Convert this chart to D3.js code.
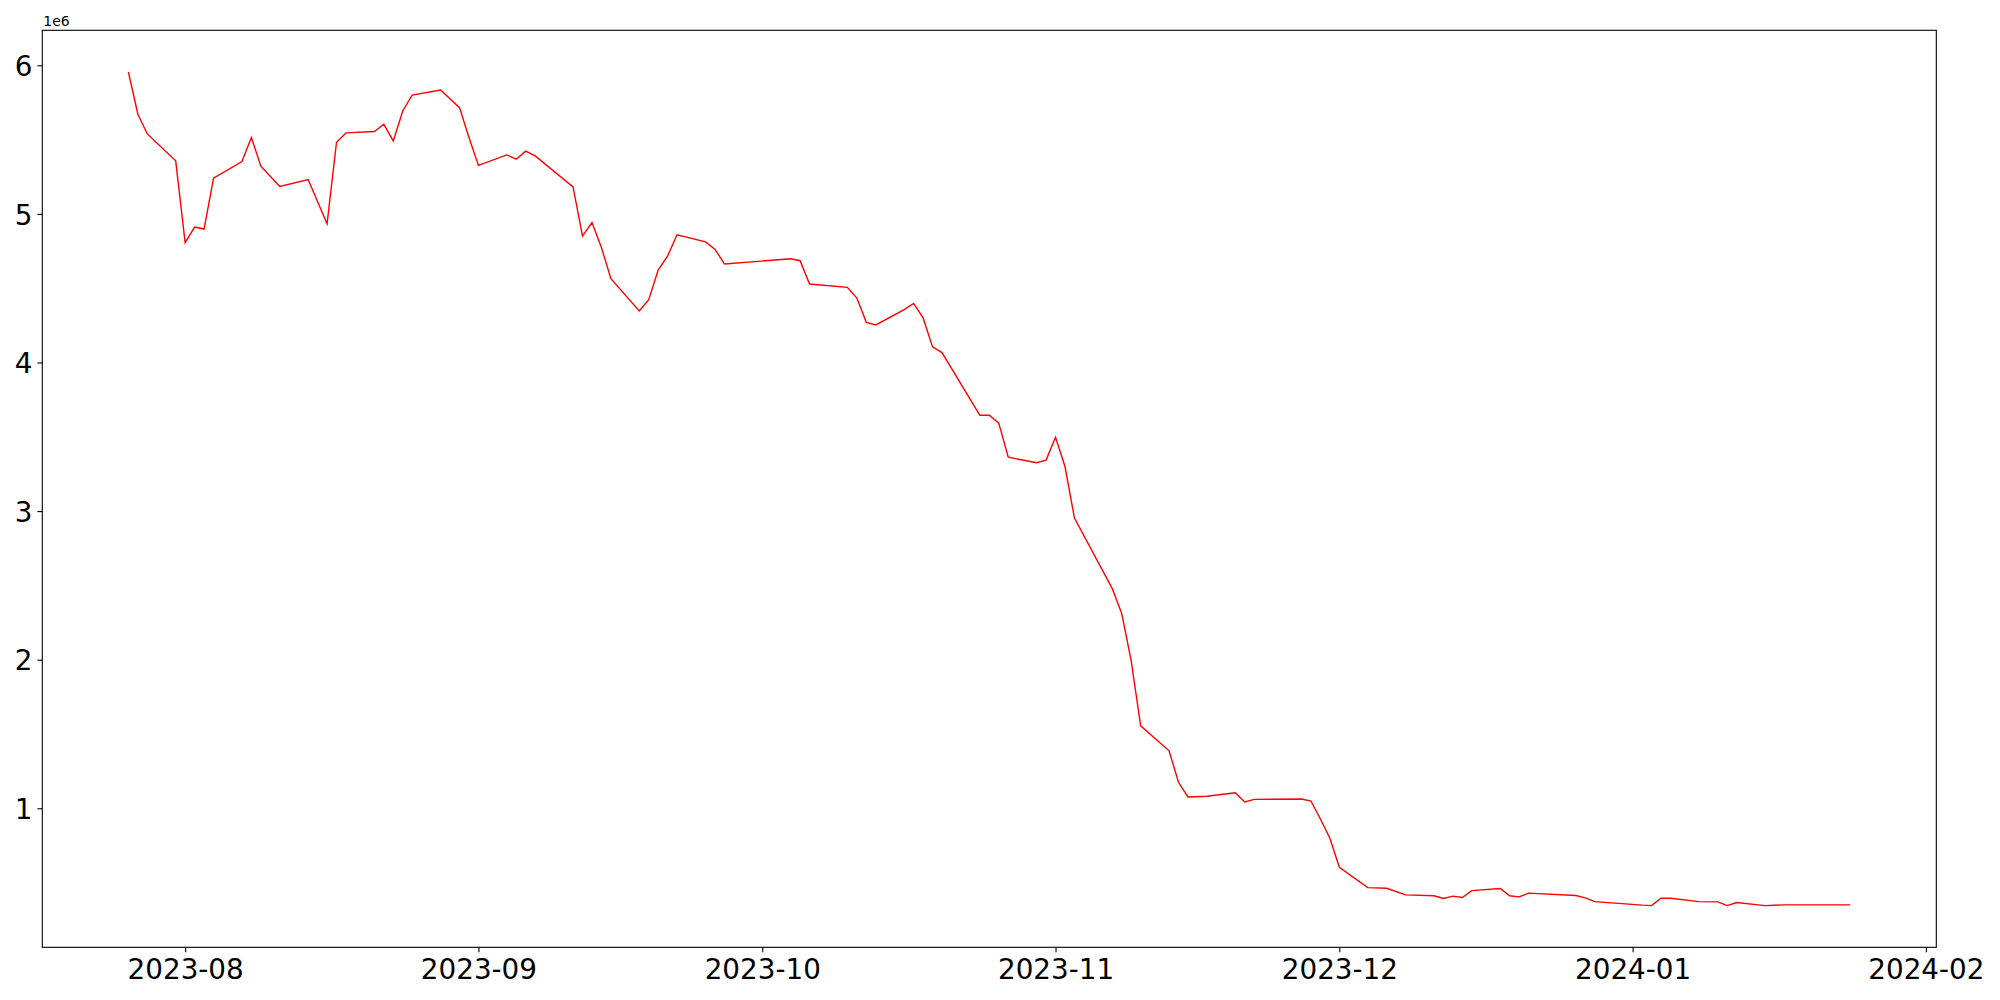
<!DOCTYPE html>
<html>
<head>
<meta charset="utf-8">
<script src="https://cdn.jsdelivr.net/npm/d3@7"></script>
<style>
  body { margin: 0; background: #fff; }
  svg { display: block; font-family: "DejaVu Sans", sans-serif; }
</style>
</head>
<body>
<div id="chart"></div>
<script>
// Dates of each observation
const dates = [
  "2023-07-26", "2023-07-27", "2023-07-28", "2023-07-31", "2023-08-01", "2023-08-02", "2023-08-03", "2023-08-04",
  "2023-08-07", "2023-08-08", "2023-08-09", "2023-08-11", "2023-08-14", "2023-08-16", "2023-08-17", "2023-08-18",
  "2023-08-21", "2023-08-22", "2023-08-23", "2023-08-24", "2023-08-25", "2023-08-28", "2023-08-30", "2023-08-31",
  "2023-09-01", "2023-09-04", "2023-09-05", "2023-09-06", "2023-09-07", "2023-09-11", "2023-09-12", "2023-09-13",
  "2023-09-14", "2023-09-15", "2023-09-18", "2023-09-19", "2023-09-20", "2023-09-21", "2023-09-22", "2023-09-25",
  "2023-09-26", "2023-09-27", "2023-10-04", "2023-10-05", "2023-10-06", "2023-10-10", "2023-10-11", "2023-10-12",
  "2023-10-13", "2023-10-16", "2023-10-17", "2023-10-18", "2023-10-19", "2023-10-20", "2023-10-24", "2023-10-25",
  "2023-10-26", "2023-10-27", "2023-10-30", "2023-10-31", "2023-11-01", "2023-11-02", "2023-11-03", "2023-11-07",
  "2023-11-08", "2023-11-09", "2023-11-10", "2023-11-13", "2023-11-14", "2023-11-15", "2023-11-17", "2023-11-20",
  "2023-11-21", "2023-11-22", "2023-11-27", "2023-11-28", "2023-11-29", "2023-11-30", "2023-12-01", "2023-12-04",
  "2023-12-06", "2023-12-08", "2023-12-11", "2023-12-12", "2023-12-13", "2023-12-14", "2023-12-15", "2023-12-18",
  "2023-12-19", "2023-12-20", "2023-12-21", "2023-12-26", "2023-12-27", "2023-12-28", "2024-01-02", "2024-01-03",
  "2024-01-04", "2024-01-05", "2024-01-08", "2024-01-10", "2024-01-11", "2024-01-12", "2024-01-15", "2024-01-17",
  "2024-01-24"
];

// Values in millions (axis shows 1e6 offset)
const values = [
  5.955, 5.671, 5.538, 5.357, 4.806, 4.911, 4.898, 5.241,
  5.352, 5.514, 5.321, 5.184, 5.231, 4.933, 5.482, 5.545,
  5.554, 5.603, 5.491, 5.693, 5.800, 5.834, 5.715, 5.514,
  5.326, 5.397, 5.368, 5.422, 5.390, 5.182, 4.851, 4.942,
  4.774, 4.564, 4.347, 4.423, 4.622, 4.718, 4.860, 4.812,
  4.763, 4.663, 4.698, 4.685, 4.528, 4.506, 4.434, 4.270,
  4.253, 4.356, 4.398, 4.300, 4.105, 4.067, 3.645, 3.645,
  3.592, 3.363, 3.325, 3.343, 3.497, 3.300, 2.953, 2.478,
  2.310, 1.992, 1.555, 1.387, 1.175, 1.076, 1.081, 1.105,
  1.042, 1.060, 1.062, 1.049, 0.928, 0.798, 0.603, 0.466,
  0.462, 0.417, 0.411, 0.393, 0.409, 0.400, 0.446, 0.460,
  0.411, 0.404, 0.429, 0.413, 0.397, 0.372, 0.348, 0.345,
  0.395, 0.395, 0.372, 0.370, 0.345, 0.366, 0.345, 0.350,
  0.350
];

const yTickValues = [1, 2, 3, 4, 5, 6];
const yOffsetLabel = "1e6";

const parseDate = d3.utcParse("%Y-%m-%d");
const data = dates.map((d, i) => ({ date: parseDate(d), value: values[i] * 1e6 }));

const width = 2000;
const height = 1000;
const margin = { top: 30.3, right: 63.7, bottom: 52.7, left: 42.3 };
const innerW = width - margin.left - margin.right;
const innerH = height - margin.top - margin.bottom;
const fontSize = 27.8;
const tickLen = 4.9;

const svg = d3.select("#chart")
  .append("svg")
  .attr("width", width)
  .attr("height", height);

const g = svg.append("g")
  .attr("transform", `translate(${margin.left},${margin.top})`);

// matplotlib-style 5% padding around the data
const xExt = d3.extent(data, d => d.date);
const xPad = (xExt[1] - xExt[0]) * 0.05;
const x = d3.scaleUtc()
  .domain([new Date(+xExt[0] - xPad), new Date(+xExt[1] + xPad)])
  .range([0, innerW]);

const yExt = d3.extent(data, d => d.value);
const yPad = (yExt[1] - yExt[0]) * 0.05;
const y = d3.scaleLinear()
  .domain([yExt[0] - yPad, yExt[1] + yPad])
  .range([innerH, 0]);

// line
const line = d3.line()
  .x(d => x(d.date))
  .y(d => y(d.value));

g.append("path")
  .datum(data)
  .attr("fill", "none")
  .attr("stroke", "#ff0000")
  .attr("stroke-width", 1.4)
  .attr("stroke-linejoin", "miter")
  .attr("d", line);

// x axis
const xAxis = g.append("g")
  .attr("transform", `translate(0,${innerH})`)
  .call(d3.axisBottom(x)
    .ticks(d3.utcMonth.every(1))
    .tickFormat(d3.utcFormat("%Y-%m"))
    .tickSize(tickLen)
    .tickPadding(4.9));
xAxis.select(".domain").remove();
xAxis.selectAll(".tick line").attr("stroke", "#000").attr("stroke-width", 1.1);
xAxis.selectAll(".tick text")
  .attr("y", 31.3)
  .attr("dy", null)
  .attr("fill", "#000")
  .style("font-size", fontSize + "px")
  .style("font-family", "DejaVu Sans");

// y axis
const yAxis = g.append("g")
  .call(d3.axisLeft(y)
    .tickValues(yTickValues.map(v => v * 1e6))
    .tickFormat(d => d3.format("d")(d / 1e6))
    .tickSize(tickLen)
    .tickPadding(4.9));
yAxis.select(".domain").remove();
yAxis.selectAll(".tick line").attr("stroke", "#000").attr("stroke-width", 1.1);
yAxis.selectAll(".tick text")
  .attr("dy", "0.365em")
  .attr("fill", "#000")
  .style("font-size", fontSize + "px")
  .style("font-family", "DejaVu Sans");

// frame (all four spines)
g.append("rect")
  .attr("width", innerW)
  .attr("height", innerH)
  .attr("fill", "none")
  .attr("stroke", "#000")
  .attr("stroke-width", 1.1);

// offset text
svg.append("text")
  .attr("x", margin.left + 1)
  .attr("y", 26)
  .attr("fill", "#000")
  .style("font-size", "13.9px")
  .text(yOffsetLabel);
</script>
</body>
</html>
